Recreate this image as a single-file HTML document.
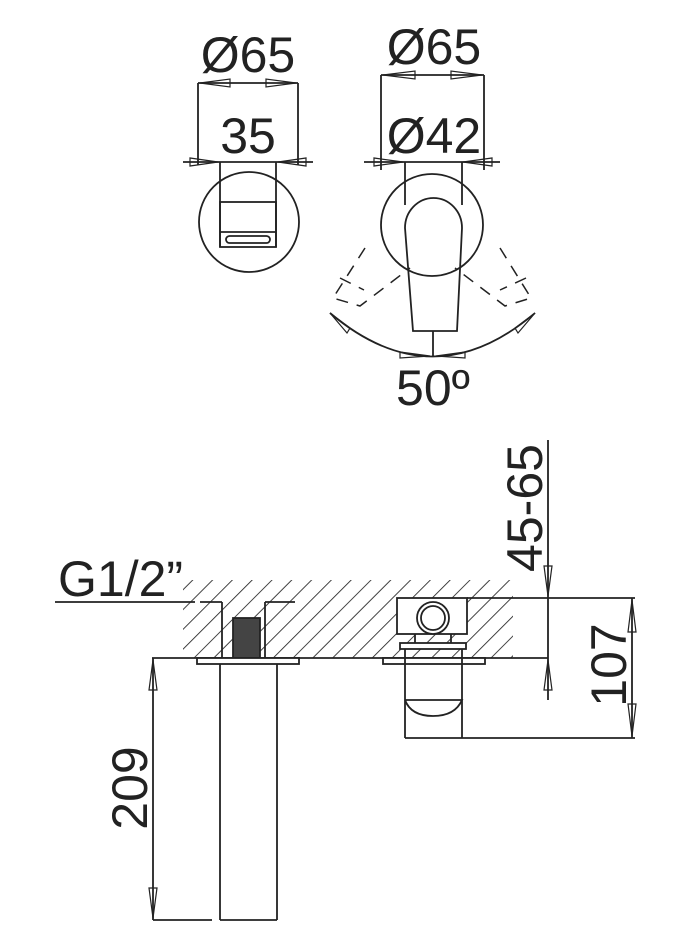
<!DOCTYPE html>
<html><head><meta charset="utf-8"><style>
html,body{margin:0;padding:0;background:#fff;}
svg{display:block;}
text{font-family:"Liberation Sans","DejaVu Sans",sans-serif;fill:#222;}
</style></head><body>
<svg width="697" height="950" viewBox="0 0 697 950" xmlns="http://www.w3.org/2000/svg">
<defs>
<pattern id="h" patternUnits="userSpaceOnUse" width="14" height="14" patternTransform="rotate(45)">
<line x1="0" y1="0" x2="0" y2="14" stroke="#222" stroke-width="1.7"/>
</pattern>
</defs>
<g stroke="#222" stroke-width="1.8" fill="none">
<!-- TOP LEFT -->
<line x1="198" y1="83" x2="298" y2="83"/>
<line x1="198" y1="83" x2="198" y2="165"/>
<line x1="298" y1="83" x2="298" y2="165"/>
<path d="M200 83 L230 79 L230 87 Z M296 83 L266 79 L266 87 Z" stroke-width="1.2"/>
<line x1="183" y1="162" x2="313" y2="162"/>
<path d="M218 162 L190 158 L190 166 Z M278 162 L306 158 L306 166 Z" stroke-width="1.2"/>
<circle cx="249" cy="222" r="50"/>
<line x1="220" y1="162" x2="220" y2="247"/>
<line x1="276" y1="162" x2="276" y2="247"/>
<rect x="220" y="202" width="56" height="45"/>
<line x1="220" y1="232" x2="276" y2="232"/>
<rect x="226" y="236" width="44" height="7" rx="3.5"/>
<!-- TOP RIGHT -->
<line x1="381" y1="75" x2="484" y2="75"/>
<line x1="381" y1="75" x2="381" y2="170"/>
<line x1="484" y1="75" x2="484" y2="170"/>
<path d="M383 75 L415 71 L415 79 Z M482 75 L451 71 L451 79 Z" stroke-width="1.2"/>
<line x1="364" y1="162" x2="500" y2="162"/>
<path d="M403 162 L374 158 L374 166 Z M463 162 L492 158 L492 166 Z" stroke-width="1.2"/>
<circle cx="432" cy="225" r="51"/>
<line x1="405" y1="162" x2="405" y2="205"/>
<line x1="462" y1="162" x2="462" y2="205"/>
<path d="M405 228 A28.5 30 0 0 1 462 228 L457 331 L413 331 Z"/>
<line x1="433" y1="331" x2="433" y2="356"/>
<path d="M330 313 Q433 400 535 313"/>
<path d="M330 313 L350 328 L347 333 Z M535 313 L515 328 L518 333 Z M400 352 L430 356 L400 358 Z M465 352 L436 356 L465 358 Z" stroke-width="1.2"/>
<g stroke-dasharray="12 9" stroke-width="1.5">
<path d="M365 248 L333 298 L360 306 L410 268"/>
<path d="M500 248 L531 298 L505 306 L455 268"/>
<path d="M340 278 L364 290 M526 278 L500 290"/>
</g>
<!-- BOTTOM -->
<rect x="183" y="580" width="330" height="78" fill="url(#h)" stroke="none"/>
<line x1="55" y1="602" x2="195" y2="602"/>
<line x1="200" y1="602" x2="222" y2="602"/>
<line x1="265" y1="602" x2="295" y2="602"/>
<line x1="222" y1="602" x2="222" y2="658"/>
<line x1="265" y1="602" x2="265" y2="658"/>
<rect x="233" y="618" width="27" height="40" fill="#444" stroke="#222"/>
<line x1="152" y1="658" x2="548" y2="658"/>
<rect x="197" y="658" width="102" height="6" fill="#fff"/>
<line x1="220" y1="664" x2="220" y2="920"/>
<line x1="277" y1="664" x2="277" y2="920"/>
<line x1="220" y1="920" x2="277" y2="920"/>
<line x1="153" y1="658" x2="153" y2="920"/>
<line x1="153" y1="920" x2="212" y2="920"/>
<path d="M153 660 L149 690 L157 690 Z M153 918 L149 888 L157 888 Z" stroke-width="1.2"/>
<!-- right body -->
<rect x="397" y="598" width="70" height="36" fill="#fff"/>
<circle cx="433" cy="618" r="16" fill="#fff"/>
<circle cx="433" cy="618" r="12"/>
<path d="M415 634 L415 643 M451 634 L451 643"/>
<rect x="400" y="643" width="66" height="6" fill="#fff"/>
<rect x="383" y="658" width="102" height="6" fill="#fff"/>
<line x1="405" y1="649" x2="405" y2="738"/>
<line x1="462" y1="649" x2="462" y2="738"/>
<path d="M405 700 L462 700 Q455 716 433 716 Q411 716 405 700"/>
<line x1="405" y1="738" x2="635" y2="738"/>
<line x1="467" y1="598" x2="635" y2="598"/>
<line x1="632" y1="598" x2="632" y2="738"/>
<path d="M632 600 L628 632 L636 632 Z M632 736 L628 704 L636 704 Z" stroke-width="1.2"/>
<line x1="548" y1="440" x2="548" y2="700"/>
<path d="M548 596 L544 566 L552 566 Z M548 660 L544 690 L552 690 Z" stroke-width="1.2"/>
</g>
<g font-size="50">
<text x="248" y="72" text-anchor="middle">Ø65</text>
<text x="248" y="153" text-anchor="middle">35</text>
<text x="434" y="64" text-anchor="middle">Ø65</text>
<text x="434" y="153" text-anchor="middle">Ø42</text>
<text x="433" y="405" text-anchor="middle">50º</text>
<text x="58" y="596">G1/2”</text>
<text transform="translate(147,788) rotate(-90)" text-anchor="middle">209</text>
<text transform="translate(542,508) rotate(-90)" text-anchor="middle">45-65</text>
<text transform="translate(626,665) rotate(-90)" text-anchor="middle">107</text>
</g>
</svg>
</body></html>
